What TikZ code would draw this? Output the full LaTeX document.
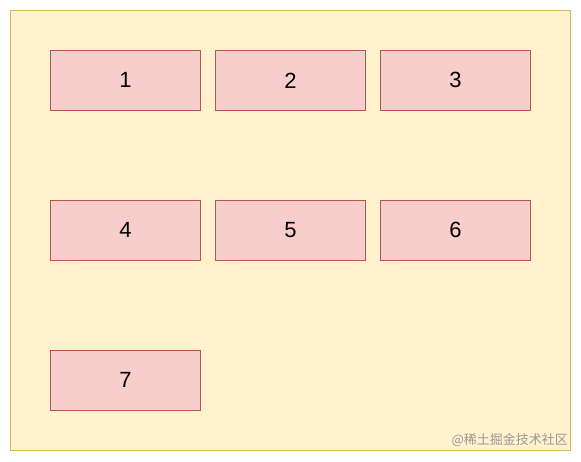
\documentclass[tikz,border=0pt]{standalone}
\usepackage{fontspec}
\setmainfont{Liberation Sans}
\newfontfamily\cjk{Noto Sans CJK SC}
\definecolor{bgfill}{HTML}{FFF2CC}
\definecolor{bgline}{HTML}{D6B656}
\definecolor{boxfill}{HTML}{F8CECC}
\definecolor{boxline}{HTML}{B85450}
\begin{document}
\begin{tikzpicture}[x=1pt,y=-1pt,
  cell/.style={draw=boxline,fill=boxfill,line width=0.8pt,minimum width=150pt,minimum height=60pt,inner sep=0pt,font=\fontsize{22}{26}\selectfont,text=black,anchor=north west}]
\useasboundingbox (0,0) rectangle (581,461);
\draw[draw=bgline,fill=bgfill,line width=0.8pt] (10,10) rectangle (570,450);
\node[cell] (n1) at (50,50) {1};
\node[cell] (n2) at (215,50) {2};
\node[cell] (n3) at (380,50) {3};
\node[cell] (n4) at (50,200) {4};
\node[cell] (n5) at (215,200) {5};
\node[cell] (n6) at (380,200) {6};
\node[cell] (n7) at (50,350) {7};
\node[anchor=east,inner sep=0pt,text=black!40,font=\cjk\fontsize{13}{15}\selectfont] (wm) at (568,440) {@稀土掘金技术社区};
\end{tikzpicture}
\end{document}
